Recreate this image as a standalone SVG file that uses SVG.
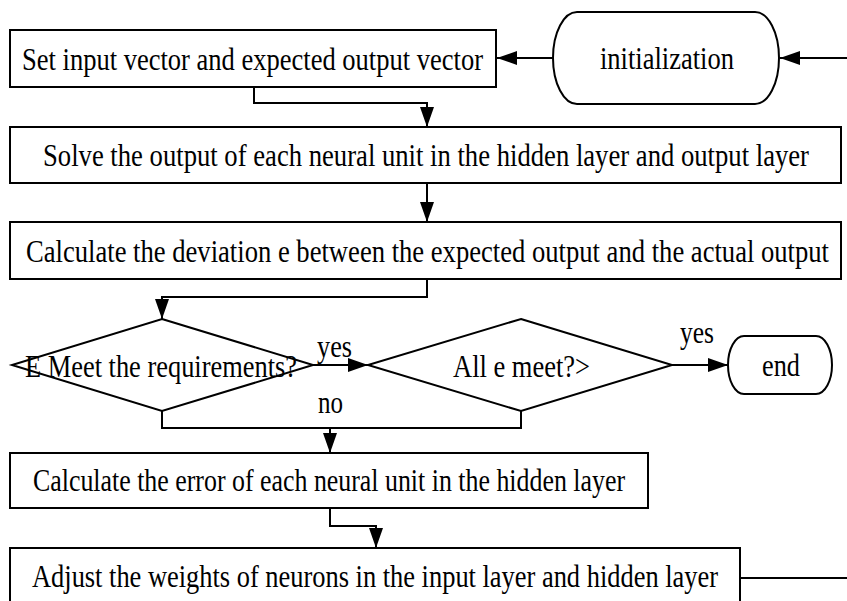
<svg xmlns="http://www.w3.org/2000/svg" width="847" height="601" viewBox="0 0 847 601">
  <style>
    .shape { fill: #ffffff; stroke: #000000; stroke-width: 2; }
    .wire { fill: none; stroke: #000000; stroke-width: 2; }
    .lbl { font-family: "Liberation Serif", "Times New Roman", serif; font-size: 31px; fill: #000000; }
  </style>
  <defs>
    <marker id="arrow" markerUnits="userSpaceOnUse" markerWidth="20" markerHeight="14" refX="20" refY="7" orient="auto">
      <path d="M0,0 L20,7 L0,14 Z" fill="#000000"/>
    </marker>
  </defs>
  <rect width="847" height="601" fill="#ffffff"/>

  <!-- connectors -->
  <g id="connectors">
    <path class="wire" d="M553,58 H497" marker-end="url(#arrow)"/>
    <path class="wire" d="M847,58 H780" marker-end="url(#arrow)"/>
    <path class="wire" d="M254,87 V103 H427 V127" marker-end="url(#arrow)"/>
    <path class="wire" d="M427,183 V222" marker-end="url(#arrow)"/>
    <path class="wire" d="M427,279 V297 H162 V319" marker-end="url(#arrow)"/>
    <path class="wire" d="M313,365 H368" marker-end="url(#arrow)"/>
    <path class="wire" d="M672,365 H728" marker-end="url(#arrow)"/>
    <path class="wire" d="M162,411 V428 H521 V411"/>
    <path class="wire" d="M330,428 V453" marker-end="url(#arrow)"/>
    <path class="wire" d="M330,508 V526 H376 V548" marker-end="url(#arrow)"/>
    <path class="wire" d="M740,578 H847"/>
    <text class="lbl" x="317" y="357" textLength="35" lengthAdjust="spacingAndGlyphs">yes</text>
    <text class="lbl" x="680" y="343" textLength="34" lengthAdjust="spacingAndGlyphs">yes</text>
    <text class="lbl" x="318" y="413" textLength="25" lengthAdjust="spacingAndGlyphs">no</text>
  </g>

  <g id="set-input">
    <rect class="shape" x="10" y="30" width="486" height="57"/>
    <text class="lbl" x="22" y="70" textLength="461" lengthAdjust="spacingAndGlyphs">Set input vector and expected output vector</text>
  </g>

  <g id="initialization">
    <rect class="shape" x="553" y="12" width="226" height="92" rx="24" ry="46"/>
    <text class="lbl" x="600" y="69" textLength="134" lengthAdjust="spacingAndGlyphs">initialization</text>
  </g>

  <g id="solve-output">
    <rect class="shape" x="10" y="127" width="831" height="56"/>
    <text class="lbl" x="43" y="166" textLength="766" lengthAdjust="spacingAndGlyphs">Solve the output of each neural unit in the hidden layer and output layer</text>
  </g>

  <g id="calc-deviation">
    <rect class="shape" x="10" y="222" width="831" height="57"/>
    <text class="lbl" x="26" y="262" textLength="803" lengthAdjust="spacingAndGlyphs">Calculate the deviation e between the expected output and the actual output</text>
  </g>

  <g id="check-e">
    <polygon class="shape" points="162,319 313,365 162,411 12,365"/>
    <text class="lbl" x="25" y="377" textLength="272" lengthAdjust="spacingAndGlyphs">E Meet the requirements?</text>
  </g>

  <g id="check-all">
    <polygon class="shape" points="521,319 672,365 521,411 368,365"/>
    <text class="lbl" x="453" y="377" textLength="137" lengthAdjust="spacingAndGlyphs">All e meet?&gt;</text>
  </g>

  <g id="end">
    <rect class="shape" x="728" y="336" width="104" height="58" rx="16" ry="29"/>
    <text class="lbl" x="762" y="376" textLength="38" lengthAdjust="spacingAndGlyphs">end</text>
  </g>

  <g id="calc-error">
    <rect class="shape" x="10" y="453" width="638" height="55"/>
    <text class="lbl" x="33" y="491" textLength="592" lengthAdjust="spacingAndGlyphs">Calculate the error of each neural unit in the hidden layer</text>
  </g>

  <g id="adjust-weights">
    <rect class="shape" x="10" y="548" width="730" height="58"/>
    <text class="lbl" x="32" y="587" textLength="686" lengthAdjust="spacingAndGlyphs">Adjust the weights of neurons in the input layer and hidden layer</text>
  </g>
</svg>
